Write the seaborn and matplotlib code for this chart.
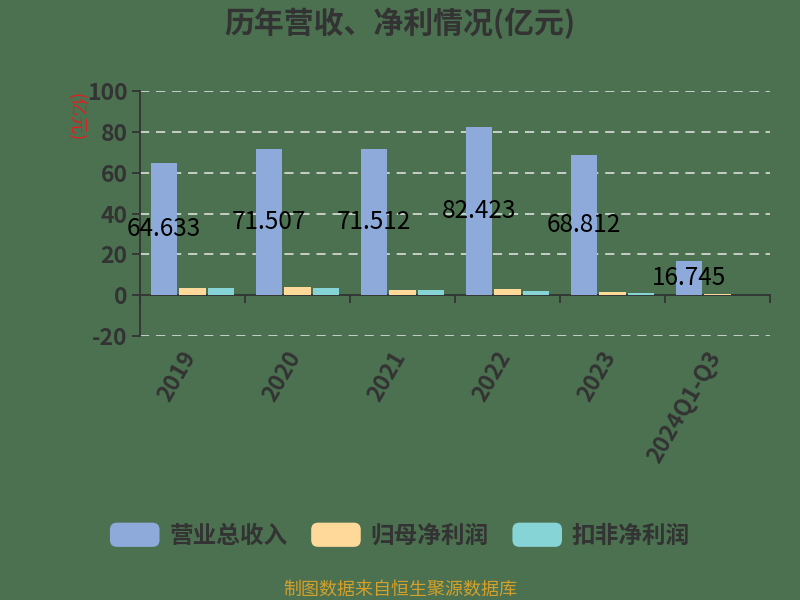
import matplotlib
matplotlib.use("Agg")
import matplotlib.pyplot as plt
import matplotlib.transforms as mtransforms
import seaborn as sns
import pandas as pd
from matplotlib.patches import FancyBboxPatch, Patch
from matplotlib.legend_handler import HandlerPatch

years = ["2019", "2020", "2021", "2022", "2023", "2024Q1-Q3"]
revenue = [64.633, 71.507, 71.512, 82.423, 68.812, 16.745]
net_profit = [3.4, 4.0, 2.6, 3.1, 1.8, 0.4]
deducted_profit = [3.4, 3.4, 2.6, 2.3, 1.3, 0.3]
series_names = ["营业总收入", "归母净利润", "扣非净利润"]
colors = ["#8eaadb", "#ffd99a", "#86d4d6"]
y_ticks = [-20, 0, 20, 40, 60, 80, 100]

sns.set_theme(style="white")
plt.rcParams['font.family'] = ['Noto Sans CJK SC', 'DejaVu Sans']
plt.rcParams['axes.unicode_minus'] = False
bg = "#4b7150"
dark = "#333333"

df = pd.DataFrame({
    "year": years * 3,
    "value": revenue + net_profit + deducted_profit,
    "series": [series_names[0]] * 6 + [series_names[1]] * 6 + [series_names[2]] * 6,
})

fig = plt.figure(figsize=(8, 6), dpi=100, facecolor=bg)
ax = fig.add_axes([0.175, 0.44, 0.7875, 0.408])
ax.set_facecolor(bg)

sns.barplot(data=df, x="year", y="value", hue="series", palette=colors,
            ax=ax, width=0.81, gap=0.06, legend=False, saturation=1,
            edgecolor="none", linewidth=0, zorder=2)

ax.set_ylim(-20, 100)
ax.set_yticks(y_ticks)
ax.set_xlim(-0.5, len(years) - 0.5)
for t in y_ticks:
    if t != 0:
        ax.axhline(t, color="#e8e8e8", lw=1.1, ls=(0, (6, 4.5)), zorder=0)

for s in ["top", "right", "bottom"]:
    ax.spines[s].set_visible(False)
ax.spines["left"].set_color(dark)
ax.spines["left"].set_linewidth(1.3)
ax.tick_params(axis="y", left=True, length=6, width=1.3, color=dark,
               labelsize=16.5, labelcolor=dark, pad=3)
for lab in ax.get_yticklabels():
    lab.set_fontweight("bold")
ax.set_xticks(range(len(years)))
ax.set_xticklabels(years, rotation=60, ha="right", va="center",
                   rotation_mode="anchor", fontsize=16.5, color=dark, fontweight="bold")
ax.tick_params(axis="x", bottom=False, pad=6)
offset = mtransforms.ScaledTranslation(-2 / 100, 0, fig.dpi_scale_trans)
for lab in ax.get_xticklabels():
    lab.set_transform(lab.get_transform() + offset)
ax.set_xlabel("")
ax.set_ylabel("")

# zero axis line with category boundary ticks
zero_frac = (0 - y_ticks[0]) / (y_ticks[-1] - y_ticks[0])
sec = ax.secondary_xaxis(zero_frac)
sec.spines["bottom"].set_color(dark)
sec.spines["bottom"].set_linewidth(1.3)
sec.set_xticks([i - 0.5 for i in range(len(years) + 1)])
sec.set_xticklabels([])
sec.tick_params(axis="x", length=6, width=1.3, color=dark, direction="out")

# value labels on revenue bars
revenue_bars = ax.containers[0]
for bar, v in zip(revenue_bars, revenue):
    ax.text(bar.get_x() + bar.get_width() / 2, v / 2, f"{v:.3f}",
            ha="center", va="center", fontsize=17.5, color="black", zorder=5)

fig.text(0.5, 0.962, "历年营收、净利情况(亿元)", ha="center", va="center",
         fontsize=21.5, fontweight="bold", color=dark)
fig.text(0.095, 0.805, "(亿元)", ha="center", va="center", rotation=-90,
         fontsize=13, color="#e02020")


def rounded(legend, orig_handle, xdescent, ydescent, width, height, fontsize):
    return FancyBboxPatch((-xdescent, -ydescent), width, height,
                          boxstyle="round,pad=0,rounding_size=5")


handles = [Patch(facecolor=c, edgecolor="none") for c in colors]
leg = fig.legend(handles, series_names, loc="center", bbox_to_anchor=(0.5, 0.108), ncol=3,
                 frameon=False, prop={"size": 17, "weight": "bold"},
                 handlelength=2.1, handleheight=1.2,
                 columnspacing=1.0, handletextpad=0.42, labelcolor=dark,
                 handler_map={Patch: HandlerPatch(patch_func=rounded)})

fig.text(0.5, 0.017, "制图数据来自恒生聚源数据库", ha="center", va="center",
         fontsize=13, color="#d4a02a")

fig.savefig("out.png", dpi=100, facecolor=bg)
